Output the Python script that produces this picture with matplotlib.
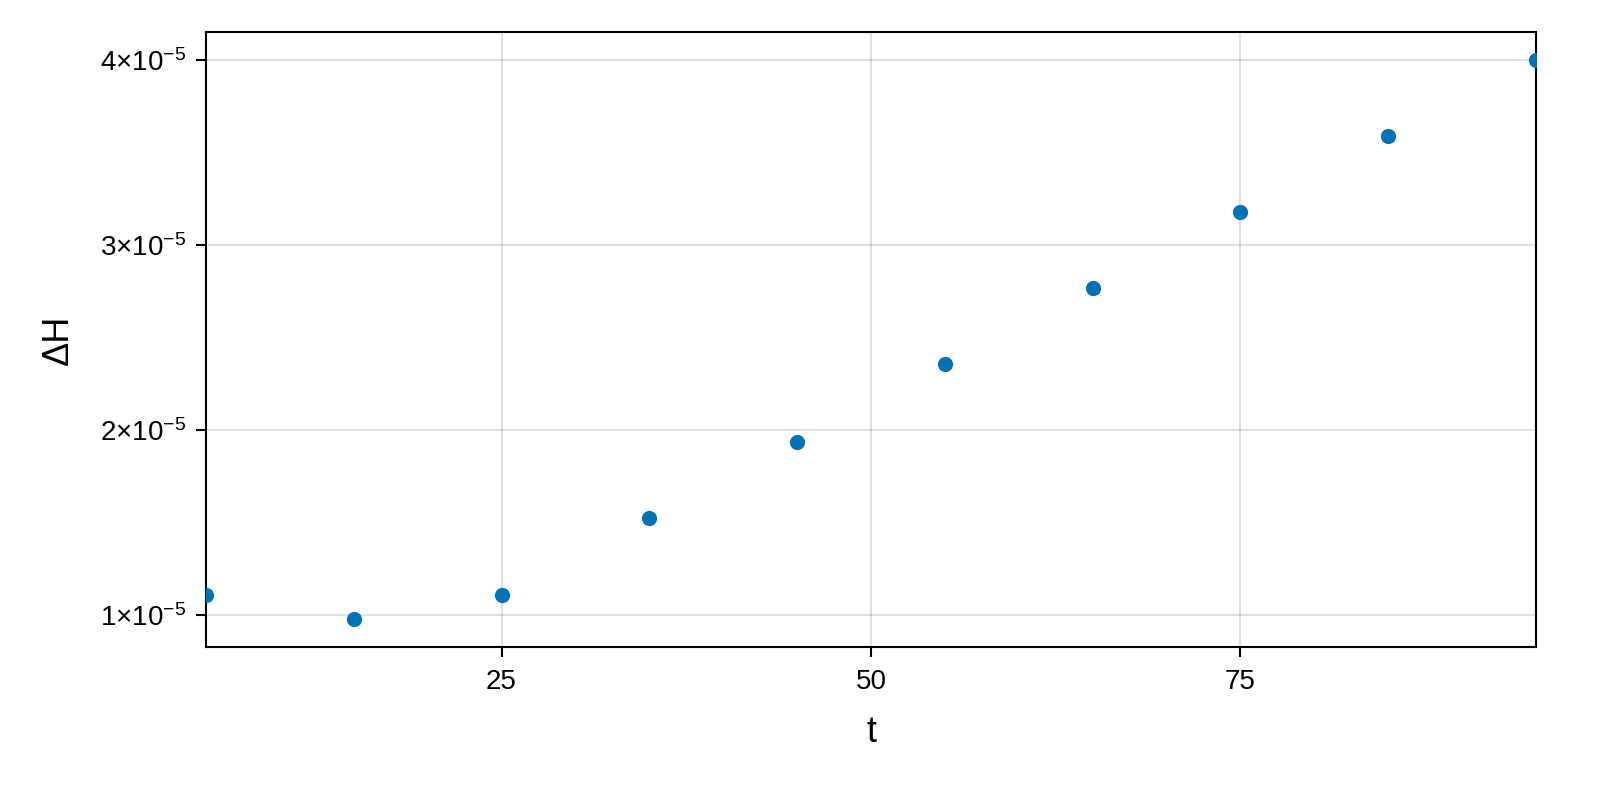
import numpy as np
import matplotlib

matplotlib.use('agg')

import matplotlib.pyplot as plt
from matplotlib.ticker import FixedLocator, FuncFormatter

plt.rcParams['font.family'] = ['Liberation Sans', 'DejaVu Sans']
plt.rcParams['mathtext.fontset'] = 'custom'
plt.rcParams['mathtext.rm'] = 'Liberation Sans'
plt.rcParams['mathtext.it'] = 'Liberation Sans'

# data
t = [5, 15, 25, 35, 45, 55, 65, 75, 85, 95]
dH = [1.108e-5, 0.978e-5, 1.108e-5, 1.525e-5, 1.937e-5,
      2.354e-5, 2.765e-5, 3.179e-5, 3.590e-5, 4.0e-5]

x_ticks = [25, 50, 75]
y_ticks = [1e-5, 2e-5, 3e-5, 4e-5]


def sci_label(v, pos):
    m = int(round(v / 1e-5))
    return f'{m}×10$^{{\\mathrm{{-5}}}}$'


fig = plt.figure(figsize=(16, 8), dpi=100)
ax = fig.add_axes([206 / 1600, 1 - 647 / 800, 1330 / 1600, 615 / 800])

ax.scatter(t, dH, s=120, color='#0072b2', zorder=3, linewidths=0)

ax.set_xlim(5, 95)
span = max(dH) - min(dH)
ax.set_ylim(min(dH) - 0.05 * span, max(dH) + 0.05 * span)

ax.xaxis.set_major_locator(FixedLocator(x_ticks))
ax.yaxis.set_major_locator(FixedLocator(y_ticks))
ax.yaxis.set_major_formatter(FuncFormatter(sci_label))

ax.grid(True, color='black', alpha=0.12, linewidth=1.5)
ax.set_axisbelow(True)
for s in ax.spines.values():
    s.set_linewidth(1.5)

ax.tick_params(direction='out', length=7, width=1.5, labelsize=20, pad=7)
ax.tick_params(axis='x', pad=9, labelsize=20)
ax.set_xlabel('t', fontsize=26, labelpad=14)
ax.set_ylabel('ΔH', fontsize=26, labelpad=18)

plt.savefig('out.png', dpi=100)
plt.close()
